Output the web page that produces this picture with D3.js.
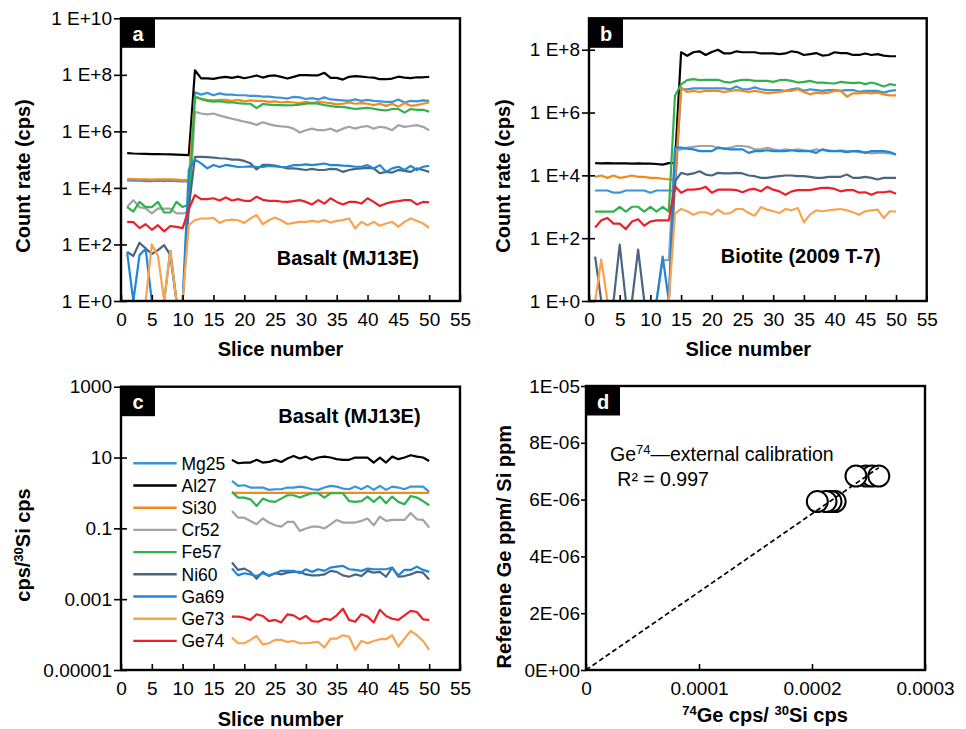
<!DOCTYPE html>
<html>
<head>
<meta charset="utf-8">
<script src="https://cdn.jsdelivr.net/npm/d3@7"></script>
<style>
  body { margin: 0; background: #fff; }
  svg { display: block; }
</style>
</head>
<body>
<svg id="fig" width="966" height="729"></svg>
<script>
// ---------- categories ----------
const slices = [1,2,3,4,5,6,7,8,9,10,11,12,13,14,15,16,17,18,19,20,21,22,23,24,25,
  26,27,28,29,30,31,32,33,34,35,36,37,38,39,40,41,42,43,44,45,46,47,48,49,50];
const ratioSlices = [18,19,20,21,22,23,24,25,26,27,28,29,30,31,32,33,34,35,36,37,38,
  39,40,41,42,43,44,45,46,47,48,49,50];
const isotopes = ["Mg25","Al27","Si30","Cr52","Fe57","Ni60","Ga69","Ge73","Ge74"];
const isotopeColors = ["#3a94d8","#000000","#f28a22","#a3a3a3","#2fb14c","#4b6580","#1f87d6","#f9a351","#e8212b"];

// ---------- panel a: basalt MJ13E raw count rates (cps) ----------
const aMg25 = [1.85e4,1.8e4,1.8e4,1.75e4,1.75e4,1.8e4,1.75e4,1.8e4,1.75e4,1.7e4,1.7e4,
  2.4e7,2.0e7,2.3e7,1.9e7,2.2e7,2.0e7,2.0e7,1.9e7,1.9e7,1.8e7,1.8e7,1.7e7,1.7e7,1.6e7,1.55e7,
  1.45e7,1.66e7,1.6e7,1.4e7,1.5e7,1.35e7,1.6e7,1.35e7,1.3e7,1.25e7,1.2e7,1.35e7,1.2e7,1.3e7,
  1.2e7,1.15e7,1.1e7,1.1e7,1.35e7,1.05e7,1.2e7,1.15e7,1.25e7,1.2e7];
const aAl27 = [1.7e5,1.65e5,1.62e5,1.6e5,1.58e5,1.56e5,1.55e5,1.53e5,1.5e5,1.47e5,1.45e5,
  1.45e8,7.5e7,7.5e7,7.2e7,8e7,8.5e7,7.8e7,8.6e7,7.6e7,8.4e7,9.5e7,8e7,9.2e7,9.5e7,8.5e7,
  7.4e7,8.5e7,9.8e7,9.8e7,9.6e7,9.6e7,1.18e8,7.8e7,7.8e7,6.8e7,8.5e7,9e7,8.6e7,8.2e7,
  8e7,7e7,7e7,7.4e7,8.6e7,8e7,7.6e7,8.2e7,8.2e7,8.5e7];
const aSi30 = [2.1e4,2.05e4,2.0e4,2.0e4,1.95e4,2.0e4,2.0e4,2.0e4,1.95e4,1.9e4,1.9e4,
  1.7e7,1.4e7,1.3e7,1.25e7,1.3e7,1.3e7,1.2e7,1.3e7,1.15e7,1.25e7,1.2e7,1.2e7,1.1e7,1.15e7,1.05e7,
  1.1e7,1.05e7,1.0e7,1.1e7,1.0e7,1.1e7,1.05e7,1.0e7,9e6,9.5e6,1.05e7,9.5e6,1.0e7,9.5e6,
  8.5e6,9.5e6,8e6,9.5e6,7.5e6,1.0e7,8e6,8.5e6,9.5e6,1.05e7];
const aCr52 = [2.1e3,3.7e3,2.1e3,1.9e3,1.25e3,1.9e3,1.85e3,1.85e3,1.25e3,1.25e3,1.4e3,
  4.9e6,4.3e6,4.0e6,4.3e6,3.6e6,3.2e6,2.8e6,2.5e6,2.2e6,2.0e6,1.7e6,2.1e6,1.8e6,1.6e6,1.5e6,
  1.45e6,1.25e6,9.1e5,1.1e6,1.25e6,1.1e6,1.1e6,1.25e6,1.0e6,1.25e6,1.45e6,1.25e6,1.45e6,1.55e6,
  1.25e6,1.45e6,1.35e6,1.1e6,1.66e6,1.45e6,1.55e6,1.66e6,1.45e6,1.1e6];
const aFe57 = [2.1e3,1.45e3,3.2e3,2.1e3,2.1e3,3.2e3,1.35e3,1.35e3,3.2e3,2.1e3,2.6e3,
  1.66e7,1.41e7,1.2e7,1.12e7,1.17e7,1.07e7,1.07e7,1.0e7,9.5e6,9.5e6,6.6e6,9.3e6,8.9e6,8.5e6,8.5e6,
  8.3e6,8.5e6,8.9e6,9.5e6,1.0e7,9.5e6,8.5e6,7.9e6,7.4e6,7.4e6,6.8e6,6.2e6,6.5e6,6.8e6,
  6.3e6,5.8e6,5.5e6,6.2e6,6.2e6,4.6e6,6.2e6,5.8e6,5.8e6,5.0e6];
const aNi60 = [55,39,115,73,46,63,95,42,1,1,2e3,
  1.26e5,1.26e5,1.22e5,1.18e5,1.12e5,1.1e5,1.0e5,1.0e5,9e4,7.4e4,4.5e4,6.5e4,6.5e4,6.2e4,5.5e4,
  4.9e4,4.9e4,4.6e4,4.3e4,4.7e4,4.3e4,4.3e4,4.7e4,4.6e4,3.7e4,4.3e4,4.7e4,4.9e4,5.1e4,
  4.9e4,3.3e4,3.7e4,3.5e4,4.3e4,4.0e4,3.7e4,4.9e4,4.3e4,3.7e4];
const aGa69 = [52,1,42,70,1,1,1,60,1,1,4.3e4,
  1.0e5,7.4e4,4.9e4,6.5e4,5.5e4,6.5e4,6e4,5.5e4,5.6e4,5.8e4,5.5e4,5.5e4,6e4,5.8e4,5.5e4,
  5.6e4,6.4e4,6.4e4,6.8e4,6.4e4,6.8e4,7.3e4,6.4e4,6.4e4,6.1e4,6.0e4,5.6e4,5.6e4,6.4e4,
  4.9e4,6.4e4,3.7e4,4.9e4,5.6e4,4.3e4,6.0e4,4.3e4,5.6e4,6.1e4];
const aGe73 = [1,1,1,1,100,40,1,60,1,1,480,
  720,830,830,870,580,720,760,720,580,830,1.1e3,520,720,900,720,
  530,580,630,630,680,630,725,600,680,725,830,370,630,480,
  630,460,550,630,425,630,830,690,550,390];
const aGe74 = [630,620,380,520,330,480,290,450,420,380,1.8e3,
  5.6e3,4.0e3,4.0e3,4.3e3,3.6e3,4.6e3,3.6e3,4.0e3,3.5e3,3.5e3,4.9e3,3.8e3,3.5e3,3.5e3,3.3e3,
  3.2e3,3.4e3,3.7e3,3.2e3,2.6e3,3.7e3,2.8e3,4.3e3,3.2e3,2.6e3,3.2e3,3.2e3,2.8e3,4.3e3,
  3.2e3,2.3e3,2.8e3,3.2e3,3.4e3,3.7e3,3.7e3,2.6e3,3.2e3,3.1e3];

// ---------- panel b: biotite 2009 T-7 raw count rates (cps) ----------
const bMg25 = [3.3e3,3.3e3,3.3e3,2.8e3,2.8e3,3.3e3,3.3e3,3.3e3,3.3e3,2.8e3,3.3e3,3.3e3,3.3e3,3.2e3,
  5.5e6,5.5e6,5.9e6,5.9e6,5.9e6,5.9e6,5.9e6,5.9e6,5.5e6,6.8e6,5.5e6,5.5e6,6.3e6,5.5e6,5.2e6,5.2e6,
  5.2e6,4.9e6,5.5e6,5.9e6,4.9e6,5.5e6,5.2e6,4.9e6,5.2e6,5.2e6,4.9e6,5.2e6,5.2e6,4.6e6,4.9e6,
  4.9e6,4.9e6,4.3e6,4.9e6,5.2e6];
const bAl27 = [2.45e4,2.4e4,2.45e4,2.4e4,2.4e4,2.4e4,2.35e4,2.4e4,2.35e4,2.35e4,2.3e4,2.2e4,2.45e4,2.5e4,
  8.3e7,6.4e7,8.3e7,8.9e7,6.8e7,8.5e7,1.0e8,7.6e7,7.6e7,8.9e7,8.3e7,8.3e7,8.3e7,7.6e7,7.6e7,7.6e7,
  7.2e7,7.6e7,8.9e7,8.3e7,6.8e7,7.2e7,7.8e7,6.5e7,6.8e7,8.3e7,7.8e7,7.8e7,6.8e7,6.8e7,7.6e7,
  6.8e7,7.2e7,6.5e7,6.2e7,6.2e7];
const bSi30 = [8.9e3,9.9e3,8.3e3,9.9e3,8.3e3,8.9e3,9.9e3,8.9e3,8.9e3,8.3e3,8.3e3,7.8e3,7.4e3,7.2e3,
  6.3e6,4.5e6,4.9e6,4.5e6,4.9e6,4.9e6,4.9e6,4.5e6,4.9e6,5.2e6,4.9e6,4.5e6,4.9e6,4.5e6,4.1e6,4.3e6,
  4.5e6,4.9e6,4.9e6,5.5e6,4.5e6,3.8e6,4.3e6,4.1e6,4.3e6,4.9e6,4.9e6,3.2e6,4.1e6,4.1e6,4.3e6,
  4.1e6,4.3e6,3.8e6,3.5e6,3.5e6];
const bCr52 = [1,1,1,1,1,1,1,1,1,1,1,20,20,6e4,
  6.7e4,7.6e4,8.1e4,8.6e4,8.6e4,8.6e4,7.6e4,7.1e4,7.6e4,8.6e4,8.6e4,8.1e4,6.7e4,6.7e4,7.6e4,6.7e4,
  6.3e4,6.7e4,6.3e4,6.7e4,6.3e4,5.9e4,6.7e4,6.3e4,6.3e4,5.9e4,6.3e4,5.9e4,5.9e4,5.5e4,5.5e4,
  5.0e4,5.2e4,5.2e4,5.0e4,4.6e4];
const bFe57 = [700,700,700,700,1000,700,1000,1000,700,1000,700,1000,700,3.4e6,
  7.9e6,1.07e7,1.16e7,1.07e7,1.1e7,1.1e7,1.1e7,9.5e6,9.0e6,1.02e7,1.1e7,1.1e7,1.02e7,1.02e7,1.02e7,9.5e6,
  1.07e7,1.1e7,1.02e7,9.0e6,9.5e6,1.02e7,9.0e6,9.0e6,8.6e6,8.4e6,9.5e6,9.0e6,8.6e6,9.0e6,8.0e6,
  9.0e6,8.0e6,6.7e6,8.0e6,7.4e6];
const bNi60 = [26,1,1,1,62,1,1,43,1,1,1,1,1,6.5e3,
  1.2e4,1.06e4,1.15e4,1.35e4,1.06e4,9.9e3,1.2e4,1.15e4,1.15e4,1.2e4,1.15e4,9.9e3,9.4e3,8.3e3,8.3e3,9.0e3,
  9.4e3,9.9e3,9.9e3,9.4e3,9.4e3,9.0e3,8.3e3,8.3e3,9.0e3,9.0e3,9.0e3,1.06e4,8.3e3,8.3e3,9.0e3,
  8.3e3,7.4e3,8.3e3,8.3e3,8.3e3];
const bGa69 = [1,1,1,1,1,1,1,1,1,1,1,26,1,7.6e4,
  7.6e4,7.1e4,6.7e4,5.9e4,5.9e4,5.9e4,7.6e4,7.1e4,6.7e4,6.7e4,6.7e4,5.2e4,5.9e4,5.9e4,6.3e4,5.9e4,
  5.9e4,5.9e4,6.3e4,5.9e4,5.9e4,5.9e4,5.2e4,6.7e4,5.9e4,5.9e4,5.9e4,5.5e4,5.9e4,5.9e4,5.2e4,
  5.9e4,5.9e4,5.9e4,5.5e4,4.6e4];
const bGe73 = [1,21,1,1,1,1,1,1,1,1,1,1,1,600,
  850,720,560,670,670,560,810,600,630,850,850,630,520,980,810,720,
  630,850,770,920,320,560,770,720,770,810,850,770,670,560,720,
  770,810,440,720,700];
const bGe74 = [220,370,440,290,290,195,340,400,250,340,370,370,370,4.5e3,
  2.8e3,3.5e3,3.5e3,3.7e3,4.3e3,2.8e3,3.5e3,3.5e3,3.5e3,3.4e3,2.9e3,3.5e3,3.7e3,3.1e3,4.3e3,3.5e3,
  3.1e3,2.4e3,3.1e3,3.4e3,3.4e3,3.4e3,3.7e3,4.0e3,4.0e3,3.7e3,3.1e3,3.4e3,3.4e3,2.8e3,2.9e3,
  2.4e3,2.9e3,2.9e3,3.1e3,2.6e3];

// ---------- panel c: basalt MJ13E, cps normalised to 30Si cps ----------
const cMg25 = [2.19,1.58,1.65,1.42,1.42,1.42,1.22,1.27,1.27,1.42,1.42,1.51,1.42,1.27,1.22,1.42,1.58,
  1.51,1.33,1.27,1.51,1.27,1.58,1.22,1.58,1.22,1.51,1.42,1.27,1.51,1.51,1.51,1.07];
const cAl27 = [8.6,6.9,7.2,7.2,8.6,7.2,7.5,8.6,7.5,9.4,11.1,9.4,10.6,8.6,10.0,10.6,10.0,
  9.0,8.6,8.6,10.0,10.0,10.0,7.2,10.0,7.2,10.6,9.0,10.0,11.6,10.6,10.0,8.0];
const cSi30 = [1,1,1,1,1,1,1,1,1,1,1,1,1,1,1,1,1,1,1,1,1,1,1,1,1,1,1,1,1,1,1,1,1];
const cCr52 = [0.31,0.20,0.20,0.162,0.13,0.19,0.146,0.122,0.112,0.152,0.152,0.085,0.099,0.112,0.112,0.099,0.13,
  0.173,0.146,0.146,0.146,0.162,0.19,0.122,0.215,0.162,0.173,0.173,0.173,0.27,0.18,0.173,0.105];
const cFe57 = [1.07,0.74,0.74,0.66,0.43,0.69,0.59,0.56,0.69,0.86,0.86,0.74,0.86,0.98,0.98,0.74,0.98,
  0.98,0.98,0.59,0.56,0.59,0.79,0.56,0.79,0.51,0.79,0.56,0.48,0.82,0.74,0.59,0.45];
const cNi60 = [0.0108,0.0067,0.0073,0.0059,0.0038,0.0059,0.0045,0.0054,0.0050,0.0056,0.0059,0.0059,0.0050,
  0.0047,0.0047,0.0050,0.0063,0.0059,0.0047,0.0043,0.0050,0.0045,0.0063,0.0056,0.0059,0.0043,0.0078,
  0.0043,0.0045,0.0050,0.0059,0.0056,0.0036];
const cGa69 = [0.0073,0.0047,0.0054,0.0050,0.0045,0.0054,0.0047,0.0054,0.0063,0.0063,0.0063,0.0054,0.0070,
  0.0059,0.0070,0.0063,0.0078,0.0083,0.0087,0.0070,0.0067,0.0063,0.0073,0.0070,0.0070,0.0070,0.0078,
  0.0047,0.0067,0.0067,0.0083,0.0067,0.0059];
const cGe73 = [8.2e-5,5.7e-5,5.7e-5,7.1e-5,9.1e-5,5.3e-5,5.7e-5,7.1e-5,7.1e-5,6.2e-5,6.6e-5,5.7e-5,5.7e-5,
  5.9e-5,6.2e-5,4.3e-5,7.7e-5,7.7e-5,9.6e-5,8.8e-5,3.7e-5,6.6e-5,5.7e-5,6.6e-5,7.4e-5,7.4e-5,9.6e-5,
  4.6e-5,7.7e-5,1.27e-4,9.6e-5,6.6e-5,3.7e-5];
const cGe74 = [3.22e-4,3.22e-4,3.0e-4,2.6e-4,3.74e-4,3.36e-4,2.4e-4,2.6e-4,2.2e-4,3.74e-4,3.5e-4,2.7e-4,3.36e-4,
  2.4e-4,2.3e-4,2.8e-4,2.6e-4,3.5e-4,5.4e-4,2.6e-4,2.3e-4,3.74e-4,3.22e-4,2.2e-4,5.0e-4,3.36e-4,2.8e-4,
  2.6e-4,3.5e-4,4.65e-4,4.35e-4,2.7e-4,2.6e-4];

// ---------- panel d: external calibration ----------
const calRatio = [2.205e-4,2.168e-4,2.124e-4,2.047e-4,2.478e-4,2.531e-4,2.389e-4,2.591e-4];
const calRef = [5.93e-6,5.93e-6,5.93e-6,5.93e-6,6.83e-6,6.83e-6,6.83e-6,6.83e-6];
const calR2Text = "R\u00b2 = 0.997";

// ---------- tick values and labels ----------
const sliceTicks = [0,5,10,15,20,25,30,35,40,45,50,55];
const aYTicks = [1,1e2,1e4,1e6,1e8,1e10];
const aYLabels = ["1 E+0","1 E+2","1 E+4","1 E+6","1 E+8","1 E+10"];
const bYTicks = [1,1e2,1e4,1e6,1e8];
const bYLabels = ["1 E+0","1 E+2","1 E+4","1 E+6","1 E+8"];
const cYTicks = [1e-5,1e-3,1e-1,10,1000];
const cYLabels = ["0.00001","0.001","0.1","10","1000"];
const dYTicks = [0,2e-6,4e-6,6e-6,8e-6,1e-5];
const dYLabels = ["0E+00","2E-06","4E-06","6E-06","8E-06","1E-05"];
const dXTicks = [0,1e-4,2e-4,3e-4];
const dXLabels = ["0","0.0001","0.0002","0.0003"];

// ---------- drawing ----------
const FONT = '"Liberation Sans", Arial, Helvetica, sans-serif';
const BOLD_SIZE = 20;
const svg = d3.select("#fig").attr("font-family", FONT);

function styleAxis(g, size) {
  g.attr("font-family", FONT).attr("font-size", size);
  g.select(".domain").remove();
  g.selectAll(".tick line").attr("stroke", "#000").attr("stroke-width", 1.6);
  g.selectAll(".tick text").attr("fill", "#000");
}

function frame(box) {
  svg.append("rect")
    .attr("x", box.left).attr("y", box.top)
    .attr("width", box.right - box.left).attr("height", box.bottom - box.top)
    .attr("fill", "none").attr("stroke", "#000").attr("stroke-width", 2.4);
}

function panelTag(box, letter) {
  svg.append("rect").attr("x", box.left).attr("y", box.top)
    .attr("width", 34).attr("height", 29.5).attr("fill", "#000");
  svg.append("text").attr("x", box.left + 17).attr("y", box.top + 22.5)
    .attr("text-anchor", "middle").attr("fill", "#fff")
    .attr("font-weight", "bold").attr("font-size", 20).text(letter);
}

function logPanel(box, yDomain, yTicks, yLabels, xs, seriesList) {
  const x = d3.scaleLinear().domain([0, 55]).range([box.left, box.right]);
  const y = d3.scaleLog().domain(yDomain).range([box.bottom, box.top]);
  const line = d3.line().x((d, i) => x(xs[i])).y(d => y(d));

  seriesList.forEach((vals, k) => {
    svg.append("path").datum(vals)
      .attr("d", line)
      .attr("fill", "none")
      .attr("stroke", isotopeColors[k])
      .attr("stroke-width", 2.2)
      .attr("stroke-linejoin", "round");
  });

  frame(box);

  const ya = svg.append("g").attr("transform", `translate(${box.left},0)`)
    .call(d3.axisLeft(y).tickValues(yTicks).tickFormat((d, i) => yLabels[i])
      .tickSize(7).tickPadding(2));
  styleAxis(ya, 19);
  ya.selectAll(".tick line").attr("x1", 6);

  const xa = svg.append("g").attr("transform", `translate(0,${box.bottom})`)
    .call(d3.axisBottom(x).tickValues(sliceTicks).tickFormat(d3.format("d"))
      .tickSize(-6).tickPadding(12));
  styleAxis(xa, 19);
  return { x, y };
}

function axisTitleX(cx, baseline, text) {
  svg.append("text").attr("x", cx).attr("y", baseline).attr("text-anchor", "middle")
    .attr("font-weight", "bold").attr("font-size", BOLD_SIZE).text(text);
}
function axisTitleY(bx, cy, build) {
  const t = svg.append("text")
    .attr("transform", `translate(${bx},${cy}) rotate(-90)`)
    .attr("text-anchor", "middle").attr("font-weight", "bold").attr("font-size", BOLD_SIZE);
  build(t);
}

// panel a
const boxA = { left: 121, right: 460, top: 18.3, bottom: 301 };
logPanel(boxA, [1, 1e10], aYTicks, aYLabels, slices,
  [aMg25, aAl27, aSi30, aCr52, aFe57, aNi60, aGa69, aGe73, aGe74]);
panelTag(boxA, "a");
svg.append("text").attr("x", 276.7).attr("y", 264.5)
  .attr("font-weight", "bold").attr("font-size", BOLD_SIZE).text("Basalt (MJ13E)");
axisTitleX(280.5, 356, "Slice number");
axisTitleY(29.5, 176, t => t.text("Count rate (cps)"));

// panel b
const boxB = { left: 589, right: 926.7, top: 18.3, bottom: 301 };
logPanel(boxB, [1, 1e9], bYTicks, bYLabels, slices,
  [bMg25, bAl27, bSi30, bCr52, bFe57, bNi60, bGa69, bGe73, bGe74]);
panelTag(boxB, "b");
svg.append("text").attr("x", 720.7).attr("y", 263)
  .attr("font-weight", "bold").attr("font-size", BOLD_SIZE).text("Biotite (2009 T-7)");
axisTitleX(748.3, 356, "Slice number");
axisTitleY(509.5, 176, t => t.text("Count rate (cps)"));

// panel c
const boxC = { left: 121, right: 460, top: 386.7, bottom: 670 };
logPanel(boxC, [1e-5, 1e3], cYTicks, cYLabels, ratioSlices,
  [cMg25, cAl27, cSi30, cCr52, cFe57, cNi60, cGa69, cGe73, cGe74]);
panelTag(boxC, "c");
svg.append("text").attr("x", 278.3).attr("y", 422.5)
  .attr("font-weight", "bold").attr("font-size", BOLD_SIZE).text("Basalt (MJ13E)");
axisTitleX(280.5, 726, "Slice number");
axisTitleY(29.5, 545, t => {
  t.append("tspan").text("cps/");
  t.append("tspan").attr("font-size", 13).attr("dy", -7).text("30");
  t.append("tspan").attr("dy", 7).text("Si cps");
});

// legend for panel c
const legend = svg.append("g");
isotopes.forEach((name, i) => {
  const yy = 463.3 + i * 22.2;
  legend.append("line").attr("x1", 133.3).attr("x2", 176.7).attr("y1", yy).attr("y2", yy)
    .attr("stroke", isotopeColors[i]).attr("stroke-width", 2.4);
  legend.append("text").attr("x", 181.5).attr("y", yy + 6.3)
    .attr("font-size", 17.5).text(name);
});

// panel d
const boxD = { left: 586, right: 925, top: 386, bottom: 670 };
const xd = d3.scaleLinear().domain([0, 3e-4]).range([boxD.left, boxD.right]);
const yd = d3.scaleLinear().domain([0, 1e-5]).range([boxD.bottom, boxD.top]);

svg.append("g").selectAll("circle")
  .data(calRatio.map((v, i) => [v, calRef[i]]))
  .join("circle")
  .attr("cx", d => xd(d[0])).attr("cy", d => yd(d[1])).attr("r", 10.5)
  .attr("fill", "#fff").attr("stroke", "#000").attr("stroke-width", 2);

// least-squares line through the origin
const slope = d3.sum(calRatio, (v, i) => v * calRef[i]) / d3.sum(calRatio, v => v * v);
const fitX = [0, d3.max(calRatio)];
svg.append("path").datum(fitX)
  .attr("d", d3.line().x(v => xd(v)).y(v => yd(v * slope)))
  .attr("fill", "none").attr("stroke", "#000").attr("stroke-width", 1.7)
  .attr("stroke-dasharray", "5,3");

frame(boxD);
const yda = svg.append("g").attr("transform", `translate(${boxD.left},0)`)
  .call(d3.axisLeft(yd).tickValues(dYTicks).tickFormat((d, i) => dYLabels[i]).tickSize(5).tickPadding(1));
styleAxis(yda, 19);
const xda = svg.append("g").attr("transform", `translate(0,${boxD.bottom})`)
  .call(d3.axisBottom(xd).tickValues(dXTicks).tickFormat((d, i) => dXLabels[i]).tickSize(-6).tickPadding(12));
styleAxis(xda, 19);
panelTag(boxD, "d");

const calText = svg.append("text").attr("x", 610).attr("y", 461).attr("font-size", 19.5);
calText.append("tspan").text("Ge");
calText.append("tspan").attr("font-size", 13).attr("dy", -7).text("74");
calText.append("tspan").attr("dy", 7).text("\u2014external calibration");
svg.append("text").attr("x", 617.3).attr("y", 486).attr("font-size", 19.5).text(calR2Text);

const dxTitle = svg.append("text").attr("x", 765).attr("y", 722).attr("text-anchor", "middle")
  .attr("font-weight", "bold").attr("font-size", BOLD_SIZE);
dxTitle.append("tspan").attr("font-size", 13).attr("dy", -7).text("74");
dxTitle.append("tspan").attr("dy", 7).text("Ge cps/ ");
dxTitle.append("tspan").attr("font-size", 13).attr("dy", -7).text("30");
dxTitle.append("tspan").attr("dy", 7).text("Si cps");
axisTitleY(511, 546.7, t => t.text("Referene Ge ppm/ Si ppm"));
</script>
</body>
</html>
